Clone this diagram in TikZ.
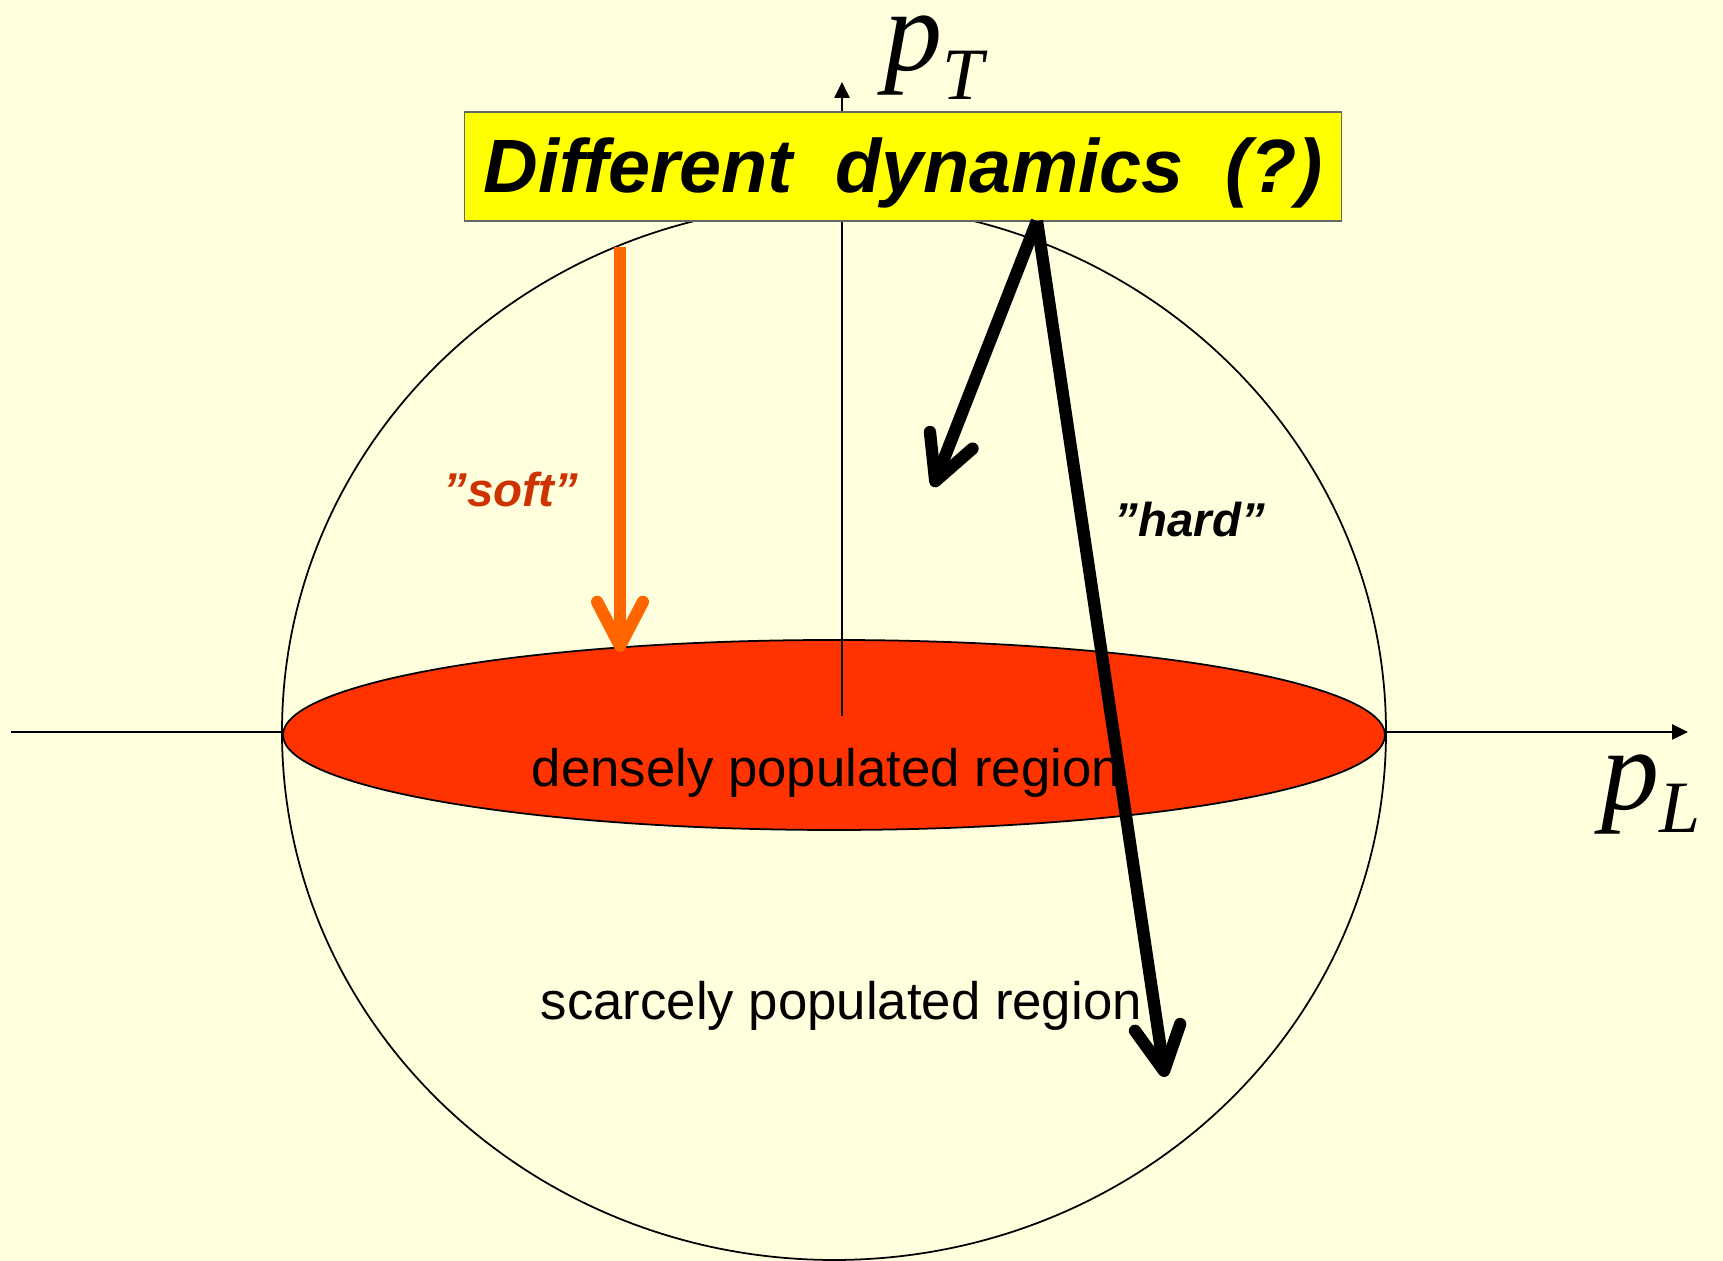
\documentclass[tikz,border=0pt]{standalone}
\usepackage{fontspec}
\setmainfont{Liberation Sans}
\newfontfamily\axisfont{Liberation Serif}
\usetikzlibrary{arrows.meta,positioning}
\definecolor{slidebg}{RGB}{255,255,221}
\definecolor{densered}{RGB}{255,51,0}
\definecolor{softorange}{RGB}{255,102,0}
\definecolor{softtext}{RGB}{204,51,0}
\definecolor{titleyellow}{RGB}{255,255,0}

\begin{document}
\begin{tikzpicture}[x=0.01cm, y=0.01cm,
  axis/.style={line width=0.45pt, -{Triangle[length=4.5pt, width=4.3pt]}},
  flow/.style={line width=3.5pt, -{Straight Barb[length=12.5pt, width=13pt, round]}},
  region/.style={font=\fontsize{15}{17}\selectfont, inner sep=0pt, anchor=base west},
  quote/.style={font=\fontsize{13.5}{16}\selectfont\bfseries\itshape, inner sep=0pt, anchor=base},
  momentum/.style={font=\fontsize{33}{36}\selectfont\axisfont\itshape, inner sep=0pt,
    text height=0.5em, anchor=base west}]
  % Slide background
  \fill[slidebg] (0,0) rectangle (1723,1261);
  \useasboundingbox (0,0) rectangle (1723,1261);

  % Axes points
  \coordinate (O) at (834,529);
  \coordinate (xstart) at (11,529);
  \coordinate (xend) at (1688,529);
  \coordinate (ybot) at (842,545);
  \coordinate (yend) at (842,1179);

  % Longitudinal axis
  \draw[axis] (xstart) -- (xend);
  \node[momentum] (pL) at (1601,451) {p\raisebox{-6.5pt}{\fontsize{21}{22}\selectfont L}};

  % Momentum sphere
  \draw[line width=0.5pt] (O) ellipse [x radius=552, y radius=528];

  % Densely populated disc
  \draw[fill=densered, line width=0.5pt] (834,526) ellipse [x radius=551, y radius=95];

  % Transverse axis
  \draw[axis] (ybot) -- (yend);
  \node[momentum] (pT) at (884,1190) {p\raisebox{-8pt}{\fontsize{21}{22}\selectfont T}};

  % Region labels
  \node[region] (dense) at (531,474) {densely populated region};
  \node[region] (scarce) at (540,241) {scarcely populated region};

  % Title box
  \node[draw=black!60, line width=0.4pt, fill=titleyellow, minimum width=8.76cm, minimum height=1.09cm,
        inner sep=0pt, text height=15pt, text depth=0pt,
        font=\fontsize{21.5}{26}\selectfont\bfseries\itshape] (title) at (903,1094.5)
        {Different\ \ dynamics\ \ (?)};

  % Soft flow
  \coordinate (softtop) at (620,1014);
  \coordinate (softtip) at (620,609);
  \draw[flow, softorange] (softtop) -- (softtip);
  \node[quote, text=softtext] (soft) at (511,754) {”soft”};

  % Hard flow
  \coordinate (hardsrc) at (1037,1040);
  \coordinate (hardtipA) at (933,774);
  \coordinate (hardtipB) at (1165,184);
  \draw[flow] (hardsrc) -- (hardtipA);
  \draw[flow] (hardsrc) -- (hardtipB);
  \node[quote] (hard) at (1190,724) {”hard”};
\end{tikzpicture}
\end{document}
